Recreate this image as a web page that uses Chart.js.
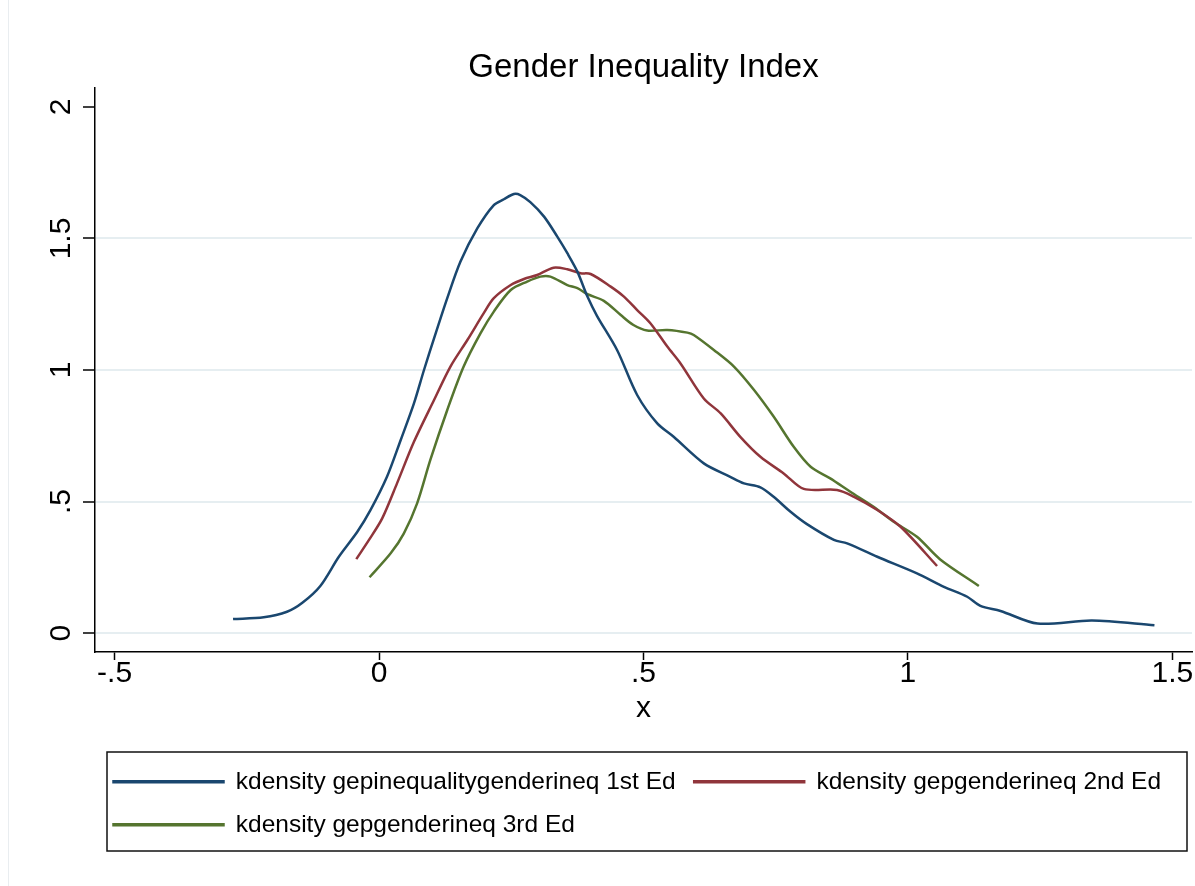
<!DOCTYPE html>
<html>
<head>
<meta charset="utf-8">
<script src="https://cdn.jsdelivr.net/npm/chart.js@4/dist/chart.umd.min.js"></script>
<style>
body{margin:0;background:#fff;}
canvas{display:block;}
</style>
</head>
<body>
<canvas id="kdChart" width="1195" height="886"></canvas>
<script>
// GENDER INEQUALITY INDEX - KERNEL DENSITIES

const chartTitle = "Gender Inequality Index";
const xTitle = "x";
const seriesLabels = [
"kdensity gepinequalitygenderineq 1st Ed",
"kdensity gepgenderineq 2nd Ed",
"kdensity gepgenderineq 3rd Ed"
];
const seriesColors = ["#1a476f", "#90353b", "#55752f"];

// axis ranges / tick step
const xRange = [-0.537, 1.537];
const yRange = [-0.072, 2.072];
const tickStep = 0.5;

// 1st Ed
const ed1X = [-0.276,-0.218,-0.174,-0.145,-0.111,-0.076,-0.041,-0.016,0.015,0.041,0.066,0.085,0.104,0.129,0.154,0.186,0.217,0.236,0.255,0.267,0.286,0.312,0.337,0.356,0.375,0.394,0.412,0.450,0.488,0.526,0.557,0.614,0.664,0.690,0.721,0.746,0.778,0.809,0.860,0.885,0.942,1.017,1.068,1.112,1.137,1.175,1.245,1.348,1.466];
const ed1Y = [0.053,0.060,0.081,0.115,0.179,0.290,0.385,0.468,0.594,0.734,0.873,1.000,1.120,1.273,1.412,1.539,1.627,1.649,1.669,1.665,1.638,1.583,1.507,1.444,1.374,1.279,1.206,1.076,0.905,0.797,0.746,0.645,0.594,0.569,0.554,0.518,0.461,0.414,0.354,0.341,0.290,0.227,0.176,0.138,0.103,0.084,0.036,0.048,0.030];

// 2nd Ed
const ed2X = [-0.043,-0.019,0.006,0.034,0.066,0.104,0.135,0.167,0.198,0.217,0.249,0.274,0.299,0.330,0.356,0.381,0.400,0.438,0.463,0.488,0.513,0.545,0.570,0.614,0.646,0.683,0.721,0.765,0.803,0.866,0.898,0.942,0.986,1.055];
const ed2Y = [0.281,0.354,0.436,0.569,0.727,0.886,1.013,1.114,1.216,1.273,1.323,1.346,1.361,1.389,1.383,1.368,1.365,1.317,1.279,1.228,1.178,1.089,1.025,0.892,0.835,0.746,0.670,0.607,0.548,0.544,0.518,0.468,0.404,0.255];

// 3rd Ed
const ed3X = [-0.018,0.022,0.047,0.072,0.097,0.129,0.160,0.192,0.217,0.249,0.280,0.305,0.324,0.356,0.375,0.394,0.425,0.457,0.481,0.507,0.545,0.583,0.595,0.633,0.671,0.709,0.746,0.784,0.816,0.853,0.891,0.935,0.973,1.017,1.061,1.134];
const ed3Y = [0.212,0.303,0.379,0.493,0.658,0.848,1.013,1.140,1.222,1.304,1.336,1.355,1.355,1.323,1.311,1.288,1.263,1.209,1.171,1.150,1.152,1.142,1.133,1.076,1.013,0.924,0.823,0.708,0.632,0.588,0.537,0.480,0.423,0.366,0.280,0.179];


const FONT = "'Liberation Sans', Arial, Helvetica, sans-serif";

function toPoints(xs, ys){
return xs.map((x,i)=>({x:x, y:ys[i]}));
}

// stata style labels: .5 instead of 0.5
function stataLabel(v){
if (v === 0) return "0";
return String(v).replace(/^(-?)0\./, "$1.");
}

function makeSet(i, xs, ys){
return {
label: seriesLabels[i],
data: toPoints(xs, ys),
borderColor: seriesColors[i],
backgroundColor: seriesColors[i],
borderWidth: 2.5,
pointRadius: 0,
tension: 0.3,
fill: false
};
}

// white page, faint outer frame line, legend border
const framePlugin = {
id: "frame",
beforeDraw(chart){
const c = chart.ctx;
c.save();
c.fillStyle = "#fff";
c.fillRect(0,0,chart.width,chart.height);
c.strokeStyle = "#e9edf0";
c.lineWidth = 1;
c.beginPath();
c.moveTo(8.5,0);
c.lineTo(8.5,chart.height);
c.stroke();
c.restore();
},
afterDraw(chart){
const L = chart.legend;
const c = chart.ctx;
c.save();
c.strokeStyle = "#111";
c.lineWidth = 1.5;
c.strokeRect(L.left + 12, L.top + 1, (L.right - 5) - (L.left + 12), (L.bottom + 4) - (L.top + 1));
c.restore();
}
};

const kdChart = new Chart(document.getElementById("kdChart").getContext("2d"), {
type: "line",
data: {
datasets: [
makeSet(0, ed1X, ed1Y),
makeSet(1, ed2X, ed2Y),
makeSet(2, ed3X, ed3Y)
]
},
options: {
responsive: false,
animation: false,
devicePixelRatio: 1,
layout: { padding: { left: 0, right: 3, top: 0, bottom: 39 } },
plugins: {
title: {
display: true,
text: chartTitle,
fullSize: false,
color: "#000",
font: { family: FONT, size: 33, weight: "normal" },
padding: { top: 48, bottom: 0.4 }
},
legend: {
position: "bottom",
align: "start",
fullSize: false,
labels: {
color: "#000",
font: { family: FONT, size: 24.5 },
boxWidth: 110,
boxHeight: 1,
padding: 18.5
}
},
tooltip: { enabled: false }
},
scales: {
x: {
type: "linear",
min: xRange[0],
max: xRange[1],
afterFit: s => { s.height = 99; },
border: { display: true, color: "#000", width: 1.5 },
grid: { drawOnChartArea: false, tickLength: 8, tickColor: "#000", tickWidth: 1.5 },
ticks: {
stepSize: tickStep,
includeBounds: false,
maxRotation: 0,
autoSkip: false,
padding: -1,
color: "#000",
font: { family: FONT, size: 30, lineHeight: 1 },
callback: v => stataLabel(v)
},
title: {
display: true,
text: xTitle,
color: "#000",
font: { family: FONT, size: 30 },
padding: { top: 0, bottom: 24 }
}
},
y: {
type: "linear",
min: yRange[0],
max: yRange[1],
afterFit: s => { s.width = 95; },
border: { display: true, color: "#000", width: 1.5 },
grid: {
color: ctx => (ctx.tick && ctx.tick.value === 2) ? "rgba(0,0,0,0)" : "#e6eef1",
lineWidth: 2,
tickLength: 12,
tickColor: "#000",
tickWidth: 1.5
},
ticks: {
stepSize: tickStep,
includeBounds: false,
minRotation: 90,
maxRotation: 90,
crossAlign: "center",
padding: 0,
color: "#000",
font: { family: FONT, size: 30 },
callback: v => stataLabel(v)
}
}
}
},
plugins: [framePlugin]
});
</script>
</body>
</html>
